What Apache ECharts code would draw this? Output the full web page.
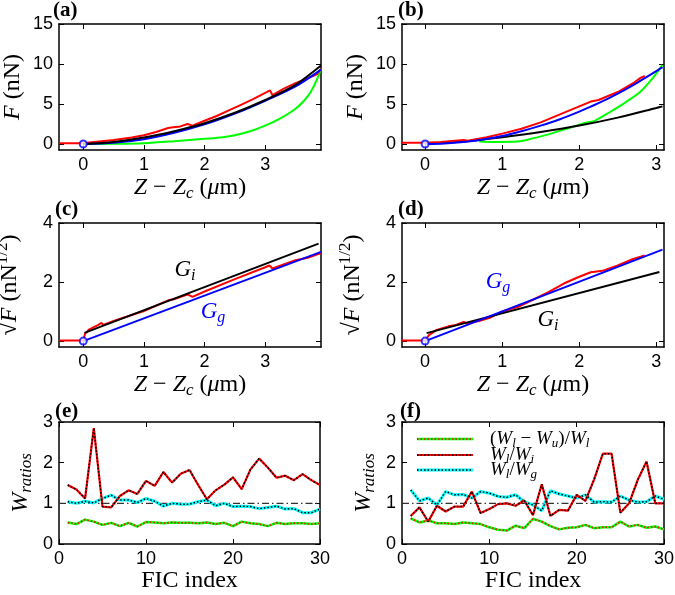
<!DOCTYPE html>
<html><head><meta charset="utf-8">
<script src="https://cdn.jsdelivr.net/npm/echarts@6/dist/echarts.min.js"></script>
<style>html,body{margin:0;padding:0;background:#fff}#c{width:675px;height:595px}</style>
</head><body><div id="c"></div>
<script>
// ---------- DATA ----------
// Panel (a): F vs Z-Zc
const aRed = [[-0.4,0.1],[0,0.1],[0.1,0.2],[0.3,0.35],[0.5,0.5],[0.8,0.8],[1.0,1.1],[1.2,1.5],[1.4,2.0],[1.45,2.05],[1.6,2.2],[1.72,2.5],[1.8,2.3],[2.0,2.9],[2.2,3.5],[2.4,4.2],[2.6,4.9],[2.8,5.6],[3.0,6.4],[3.08,6.7],[3.12,6.1],[3.3,6.9],[3.5,7.6],[3.7,8.2],[3.85,8.7],[3.92,9.4]];
const aBlack = [[0,0],[0.5,0.25],[1,0.8],[1.5,1.6],[2,2.6],[2.5,3.9],[3,5.5],[3.5,7.4],[3.92,9.8]];
const aBlue = [[0,0],[0.5,0.15],[1,0.6],[1.5,1.4],[2,2.45],[2.5,3.8],[3,5.4],[3.5,7.2],[3.92,9.3]];
const aGreen = [[0,0],[0.5,0.02],[1,0.1],[1.5,0.35],[2,0.65],[2.3,0.85],[2.5,1.1],[2.75,1.6],[3,2.3],[3.25,3.2],[3.5,4.4],[3.65,5.5],[3.75,6.5],[3.85,8.0],[3.92,9.4]];
// Panel (b)
const bRed = [[-0.3,0.15],[0,0.15],[0.2,0.25],[0.5,0.5],[0.55,0.4],[0.8,0.85],[1.0,1.3],[1.25,1.9],[1.5,2.7],[1.75,3.7],[2.0,4.7],[2.15,5.3],[2.25,5.5],[2.5,6.5],[2.7,7.6],[2.8,8.3],[2.85,8.5]];
const bBlue = [[0,0],[0.25,0.07],[0.5,0.25],[0.75,0.57],[1,1.0],[1.25,1.6],[1.5,2.3],[1.75,3.1],[2,4.05],[2.25,5.1],[2.5,6.3],[2.75,7.65],[3,9.1],[3.08,9.6]];
const bBlack = [[0,0.05],[0.5,0.3],[1,0.85],[1.5,1.5],[2,2.3],[2.5,3.3],[3,4.5],[3.08,4.7]];
const bGreen = [[0.7,0.3],[0.9,0.25],[1.2,0.3],[1.4,0.7],[1.6,1.2],[1.8,1.8],[2.0,2.4],[2.1,2.7],[2.2,2.9],[2.4,4.0],[2.6,5.2],[2.8,6.6],[2.95,8.2],[3.08,9.9]];
// Panel (c): sqrt(F)
const cRed = [[-0.4,0.02],[0,0.02],[0.03,0.25],[0.1,0.4],[0.25,0.55],[0.3,0.62],[0.33,0.55],[0.5,0.68],[1.0,1.02],[1.4,1.38],[1.5,1.42],[1.72,1.58],[1.8,1.5],[2.0,1.68],[2.5,2.1],[3.0,2.5],[3.07,2.56],[3.12,2.46],[3.5,2.74],[3.7,2.82],[3.92,2.98]];
const cGi = [[0.02,0.28],[3.88,3.3]];
const cGg = [[0,0],[3.92,3.02]];
// Panel (d)
const dRed = [[-0.3,0.02],[0,0.02],[0.05,0.2],[0.15,0.38],[0.3,0.5],[0.4,0.55],[0.5,0.65],[0.55,0.6],[0.7,0.68],[0.85,0.8],[1.0,1.0],[1.2,1.15],[1.4,1.4],[1.6,1.66],[1.8,1.95],[2.0,2.18],[2.15,2.33],[2.3,2.38],[2.5,2.56],[2.7,2.78],[2.85,2.9]];
const dGi = [[0.02,0.27],[3.04,2.34]];
const dGg = [[0,0],[3.08,3.1]];
const contactPoint = [[0,0]];
// Panel (e): W ratios vs FIC index 1..30
const eWlWi = [1.45,1.34,1.12,2.85,0.92,0.9,1.18,1.32,1.23,1.55,1.43,1.77,1.51,1.73,1.82,1.45,1.1,1.32,1.46,1.64,1.35,1.83,2.1,1.88,1.63,1.68,1.57,1.72,1.57,1.45];
const eWlWg = [1.04,1.0,1.05,1.01,1.12,1.2,1.08,1.08,1.02,1.12,1.05,0.93,1.0,0.98,0.98,1.04,1.08,0.94,1.0,0.92,0.93,0.92,0.87,0.9,0.93,0.86,0.87,0.77,0.77,0.86];
const eHyst = [0.53,0.49,0.6,0.55,0.47,0.52,0.44,0.52,0.43,0.54,0.53,0.51,0.53,0.52,0.52,0.51,0.53,0.49,0.52,0.44,0.55,0.51,0.49,0.44,0.52,0.49,0.51,0.51,0.49,0.51];
// Panel (f)
const fWlWi = [0.69,0.9,0.55,0.94,0.8,0.92,0.92,1.29,0.76,0.86,0.98,1.0,0.94,1.07,0.71,1.47,0.69,0.84,0.82,1.21,1.06,1.59,2.22,2.22,0.77,1.0,1.58,2.03,1.0,1.0];
const fWlWg = [1.33,1.06,1.13,0.96,1.29,1.21,1.22,1.13,1.29,1.25,1.17,1.15,1.21,1.04,0.96,0.82,1.31,1.23,1.18,1.13,1.21,1.03,1.04,1.03,1.18,1.08,1.03,1.04,1.18,1.1];
const fHyst = [0.63,0.53,0.58,0.51,0.51,0.49,0.53,0.51,0.49,0.41,0.35,0.33,0.45,0.39,0.62,0.55,0.44,0.36,0.4,0.41,0.47,0.39,0.41,0.41,0.55,0.43,0.47,0.4,0.43,0.36];
const refLine = [[0,1],[30,1]];
const zTicks = [0,1,2,3];
const fTicks = [0,5,10,15];
const sTicks = [0,2,4];
const panelLabels = ['(a)','(b)','(c)','(d)','(e)','(f)'];
const legendNames = ['{p|(}{i|W}{s|l}{p| − }{i|W}{s|u}{p|)/}{i|W}{s|l}','{i|W}{s|l}{p|/}{i|W}{s|i}','{i|W}{s|l}{p|/}{i|W}{s|g}'];

// ---------- STYLE HELPERS ----------
const SERIF = '"Liberation Serif","DejaVu Serif",serif';
const SANS = '"Liberation Sans",Arial,sans-serif';
const rich = {
  i:{fontFamily:SERIF,fontStyle:'italic',fontSize:24,color:'#000'},
  n:{fontFamily:SERIF,fontSize:24,color:'#000'},
  s:{fontFamily:SERIF,fontStyle:'italic',fontSize:17,color:'#000',padding:[12,0,0,0]},
  p:{fontFamily:SERIF,fontSize:17,color:'#000',padding:[0,0,14,0]}
};
const RED='#ff0000', BLUE='#0000ff', GREEN='#00ff00', CYAN='#00ffff';
const ZNAME = '{i|Z}{n| − }{i|Z}{s|c}{n| (}{i|μ}{n|m)}';
const SNAME = '{n|√}{i|F}{n| (nN}{p|1/2}{n|)}';

const panels = [
  {left:59, top:24, width:262, height:126, xmin:-0.4, xmax:3.92, ymin:-0.75, ymax:15, xt:zTicks, yt:fTicks, xname:ZNAME, yname:'{i|F}{n| (nN)}'},
  {left:402, top:24, width:262, height:126, xmin:-0.3, xmax:3.1, ymin:-0.75, ymax:15, xt:zTicks, yt:fTicks, xname:ZNAME, yname:'{i|F}{n| (nN)}'},
  {left:59, top:223, width:262, height:124, xmin:-0.4, xmax:3.92, ymin:-0.2, ymax:4, xt:zTicks, yt:sTicks, xname:ZNAME, yname:SNAME},
  {left:402, top:223, width:262, height:124, xmin:-0.3, xmax:3.1, ymin:-0.2, ymax:4, xt:zTicks, yt:sTicks, xname:ZNAME, yname:SNAME},
  {left:59, top:422, width:261, height:122, xmin:0, xmax:30, ymin:0, ymax:3, interval:[10,1], xname:'{n|FIC index}', yname:'{i|W}{s|ratios}'},
  {left:402, top:422, width:262, height:122, xmin:0, xmax:30, ymin:0, ymax:3, interval:[10,1], xname:'{n|FIC index}', yname:'{i|W}{s|ratios}'}
];

const grid=[], xAxis=[], yAxis=[], series=[];
const axLine = {show:true, onZero:false, lineStyle:{color:'#000', width:1.5}};
panels.forEach((p,k)=>{
  grid.push({left:p.left, top:p.top, width:p.width, height:p.height, containLabel:false, outerBoundsMode:'none'});
  const xb = {type:'value', gridIndex:k, min:p.xmin, max:p.xmax, splitLine:{show:false}, axisLine:axLine};
  const yb = {type:'value', gridIndex:k, min:p.ymin, max:p.ymax, splitLine:{show:false}, axisLine:axLine};
  if (p.interval){ xb.interval=p.interval[0]; yb.interval=p.interval[1]; }
  const tick = (vals)=> vals ? {inside:true, length:5, lineStyle:{color:'#000',width:1}, customValues:vals} : {inside:true, length:5, lineStyle:{color:'#000',width:1}};
  const lab = (vals, m)=> { const o={fontFamily:SANS, fontSize:18, color:'#000', margin:m}; if(vals) o.customValues=vals; return o; };
  xAxis.push(Object.assign({}, xb, {position:'bottom', axisTick:tick(p.xt), axisLabel:lab(p.xt,6),
    name:p.xname, nameLocation:'middle', nameGap:23, nameTextStyle:{rich:rich, verticalAlign:'top'}}));
  xAxis.push(Object.assign({}, xb, {position:'top', axisTick:tick(p.xt), axisLabel:{show:false}}));
  yAxis.push(Object.assign({}, yb, {position:'left', axisTick:tick(p.yt), axisLabel:lab(p.yt,6),
    name:p.yname, nameLocation:'middle', nameGap:p.interval?24:34, nameTextStyle:{rich:rich}}));
  yAxis.push(Object.assign({}, yb, {position:'right', axisTick:tick(p.yt), axisLabel:{show:false}}));
});
const xi = k=>2*k, yi = k=>2*k;
function line(k, data, color, width, extra){
  return Object.assign({type:'line', xAxisIndex:xi(k), yAxisIndex:yi(k), data:data, showSymbol:false, symbol:'none',
    lineStyle:{color:color, width:width}, animation:false, silent:true}, extra||{});
}
function dotted(k, data, color, width){
  return line(k, data, color, width, {lineStyle:{color:color, width:width, type:[1.5,2]}});
}
function circ(k){
  return {type:'scatter', xAxisIndex:xi(k), yAxisIndex:yi(k), data:contactPoint, symbol:'emptyCircle', symbolSize:7,
    itemStyle:{color:BLUE, borderColor:BLUE, borderWidth:1.2}, animation:false, silent:true, z:5};
}
// (a)
series.push(line(0,aGreen,GREEN,2,{smooth:0.3}), line(0,aRed,RED,2), line(0,aBlue,BLUE,2,{smooth:0.3}), line(0,aBlack,'#000',2,{smooth:0.3}), circ(0));
// (b)
series.push(line(1,bGreen,GREEN,2,{smooth:0.3}), line(1,bBlack,'#000',2,{smooth:0.3}), line(1,bRed,RED,2), line(1,bBlue,BLUE,2,{smooth:0.3}), circ(1));
// (c)
series.push(line(2,cRed,RED,2), line(2,cGi,'#000',2), line(2,cGg,BLUE,2), circ(2));
// (d)
series.push(line(3,dRed,RED,2), line(3,dGi,'#000',2), line(3,dGg,BLUE,2), circ(3));
// (e),(f)
const idx = arr => arr.map((v,i)=>[i+1,v]);
[[4,eHyst,eWlWi,eWlWg],[5,fHyst,fWlWi,fWlWg]].forEach(([k,h,wi,wg])=>{
  series.push(line(k, refLine, '#333', 1.2, {lineStyle:{color:'#333', width:1.2, type:[7,3,1.5,3]}}));
  series.push(line(k, idx(h), GREEN, 2.5), dotted(k, idx(h), RED, 1.5));
  series.push(line(k, idx(wg), CYAN, 3), dotted(k, idx(wg), '#000', 1.5));
  series.push(line(k, idx(wi), RED, 2.2), dotted(k, idx(wi), '#000', 1.5));
});

// ---------- GRAPHIC (panel labels, annotations, legend) ----------
const graphic = [];
const labPos = [[53,0],[398,0],[55,199],[398,199],[55,401],[400,401]];
panelLabels.forEach((t,k)=>graphic.push({type:'text', left:labPos[k][0], top:labPos[k][1],
  style:{text:t, font:'bold 21px '+SERIF, fill:'#000'}}));
const gRich = {i:{fontFamily:SERIF,fontStyle:'italic',fontSize:23}, s:{fontFamily:SERIF,fontStyle:'italic',fontSize:16,padding:[12,0,0,0]}};
function gLabel(x,y,txt,color){
  const r = JSON.parse(JSON.stringify(gRich)); r.i.color=color; r.s.color=color;
  graphic.push({type:'text', x:x, y:y, style:{text:txt, rich:r, align:'center', verticalAlign:'middle', fill:color}});
}
gLabel(185,270,'{i|G}{s|i}','#000');
gLabel(213,312,'{i|G}{s|g}',BLUE);
gLabel(498,282,'{i|G}{s|g}',BLUE);
gLabel(548,320,'{i|G}{s|i}','#000');
// legend in (f)
const legStyles = [[GREEN,RED,2.5],[RED,'#000',2.2],[CYAN,'#000',3]];
const legY = [439,455,470];
const lRich = {i:{fontFamily:SERIF,fontStyle:'italic',fontSize:19,color:'#000'}, p:{fontFamily:SERIF,fontSize:19,color:'#000'}, s:{fontFamily:SERIF,fontStyle:'italic',fontSize:13,color:'#000',padding:[9,0,0,0]}};
legStyles.forEach((st,j)=>{
  graphic.push({type:'line', shape:{x1:417,y1:legY[j],x2:473,y2:legY[j]}, style:{stroke:st[0], lineWidth:st[2]}});
  graphic.push({type:'line', shape:{x1:417,y1:legY[j],x2:473,y2:legY[j]}, style:{stroke:st[1], lineWidth:1.5, lineDash:[1.5,2]}});
  graphic.push({type:'text', x:490, y:legY[j], style:{text:legendNames[j], rich:lRich, verticalAlign:'middle'}});
});

const chart = echarts.init(document.getElementById('c'), null, {renderer:'canvas'});
chart.setOption({backgroundColor:'#fff', animation:false, grid, xAxis, yAxis, series, graphic});
</script></body></html>
